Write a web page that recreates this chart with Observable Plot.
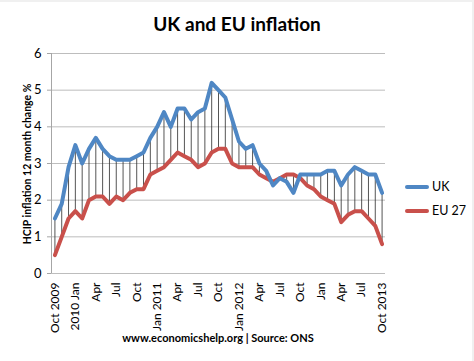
<!DOCTYPE html>
<html>
<head>
<meta charset="utf-8">
<script src="https://cdn.jsdelivr.net/npm/d3@7"></script>
<script src="https://cdn.jsdelivr.net/npm/@observablehq/plot@0.6"></script>
<style>
  body { margin: 0; background: #fff; }
  #wrap { position: relative; width: 474px; height: 361px; overflow: hidden; background: #fff; font-family: Lato, "Open Sans", sans-serif; color: #000; }
  #title { position: absolute; left: 0; top: 12px; width: 474px; text-align: center; font-weight: bold; font-size: 19px; }
  #chart { position: absolute; left: 0; top: 40px; }
  #ylab { position: absolute; left: 27px; top: 164px; transform: translate(-50%, -50%) rotate(-90deg); white-space: nowrap; font-weight: bold; font-size: 10.5px; }
  #caption { position: absolute; left: 0; top: 331px; width: 436px; text-align: center; font-weight: bold; font-size: 11px; }
  .leg { position: absolute; left: 405px; font-size: 12.5px; display: flex; align-items: center; }
  .leg .sw { width: 24px; height: 4px; border-radius: 2px; margin-right: 3px; }
  #edgeR { position: absolute; left: 472px; top: 0; width: 2px; height: 361px; background: #f0f0f0; }
  #edgeT { position: absolute; left: 0; top: 0; width: 474px; height: 2px; background: #f0f0f0; }
</style>
</head>
<body>
<div id="wrap">
  <div id="edgeT"></div>
  <div id="edgeR"></div>
  <div id="title">UK and EU inflation</div>
  <div id="chart"></div>
  <div id="ylab">HCIP inflation 12 month change %</div>
  <div id="caption">www.economicshelp.org | Source: ONS</div>
  <div class="leg" style="top:179px"><div class="sw" style="background:#4f87c4"></div>UK</div>
  <div class="leg" style="top:203px"><div class="sw" style="background:#c9504b"></div>EU 27</div>
</div>
<script>
// Monthly HICP 12-month change, Oct 2009 .. Oct 2013
const uk = [1.5, 1.9, 2.9,
  3.5, 3.0, 3.4, 3.7, 3.4, 3.2, 3.1, 3.1, 3.1, 3.2, 3.3, 3.7,
  4.0, 4.4, 4.0, 4.5, 4.5, 4.2, 4.4, 4.5, 5.2, 5.0, 4.8, 4.2,
  3.6, 3.4, 3.5, 3.0, 2.8, 2.4, 2.6, 2.5, 2.2, 2.7, 2.7, 2.7,
  2.7, 2.8, 2.8, 2.4, 2.7, 2.9, 2.8, 2.7, 2.7, 2.2];
const eu = [0.5, 1.0, 1.5,
  1.7, 1.5, 2.0, 2.1, 2.1, 1.9, 2.1, 2.0, 2.2, 2.3, 2.3, 2.7,
  2.8, 2.9, 3.1, 3.3, 3.2, 3.1, 2.9, 3.0, 3.3, 3.4, 3.4, 3.0,
  2.9, 2.9, 2.9, 2.7, 2.6, 2.5, 2.6, 2.7, 2.7, 2.6, 2.4, 2.3,
  2.1, 2.0, 1.9, 1.4, 1.6, 1.7, 1.7, 1.5, 1.3, 0.8];
const tickMonths = [0, 3, 6, 9, 12, 15, 18, 21, 24, 27, 30, 33, 36, 39, 42, 45, 48];
const tickLabels = ["Oct 2009", "2010 Jan", "Apr", "Jul", "Oct", "Jan 2011", "Apr", "Jul", "Oct",
  "Jan 2012", "Apr", "Jul", "Oct", "Jan", "Apr", "Jul", "Oct 2013"];
const yTicks = [0, 1, 2, 3, 4, 5, 6];

const months = uk.map((d, i) => i);
const labelOf = new Map(tickMonths.map((m, i) => [m, tickLabels[i]]));

const chart = Plot.plot({
  width: 474,
  height: 300,
  marginLeft: 51,
  marginRight: 89,
  marginTop: 13,
  marginBottom: 67,
  style: { fontFamily: "Lato, 'Open Sans', sans-serif", background: "transparent" },
  x: { type: "linear", domain: [-0.5, 48.5] },
  y: { domain: [0, 6] },
  marks: [
    Plot.gridY(yTicks, { stroke: "#bdbdbd", strokeOpacity: 1, strokeWidth: 1 }),
    Plot.ruleX([-0.5], { stroke: "#a6a6a6", strokeWidth: 1 }),
    Plot.axisY(yTicks, {
      tickSize: 4, tickPadding: 6, fontSize: 13, stroke: "#a6a6a6", label: null
    }),
    Plot.axisX(tickMonths, {
      tickSize: 0, tickPadding: 9, tickRotate: -90, fontSize: 12,
      tickFormat: (m) => labelOf.get(m), label: null
    }),
    Plot.ruleX(months, { x: (i) => i, y1: (i) => eu[i], y2: (i) => uk[i], stroke: "#2a2a2a", strokeWidth: 0.8 }),
    Plot.line(eu, { x: (d, i) => i, y: (d) => d, stroke: "#c9504b", strokeWidth: 4, strokeLinejoin: "round", strokeLinecap: "round" }),
    Plot.line(uk, { x: (d, i) => i, y: (d) => d, stroke: "#4f87c4", strokeWidth: 4, strokeLinejoin: "round", strokeLinecap: "round" })
  ]
});
document.getElementById("chart").appendChild(chart);
</script>
</body>
</html>
